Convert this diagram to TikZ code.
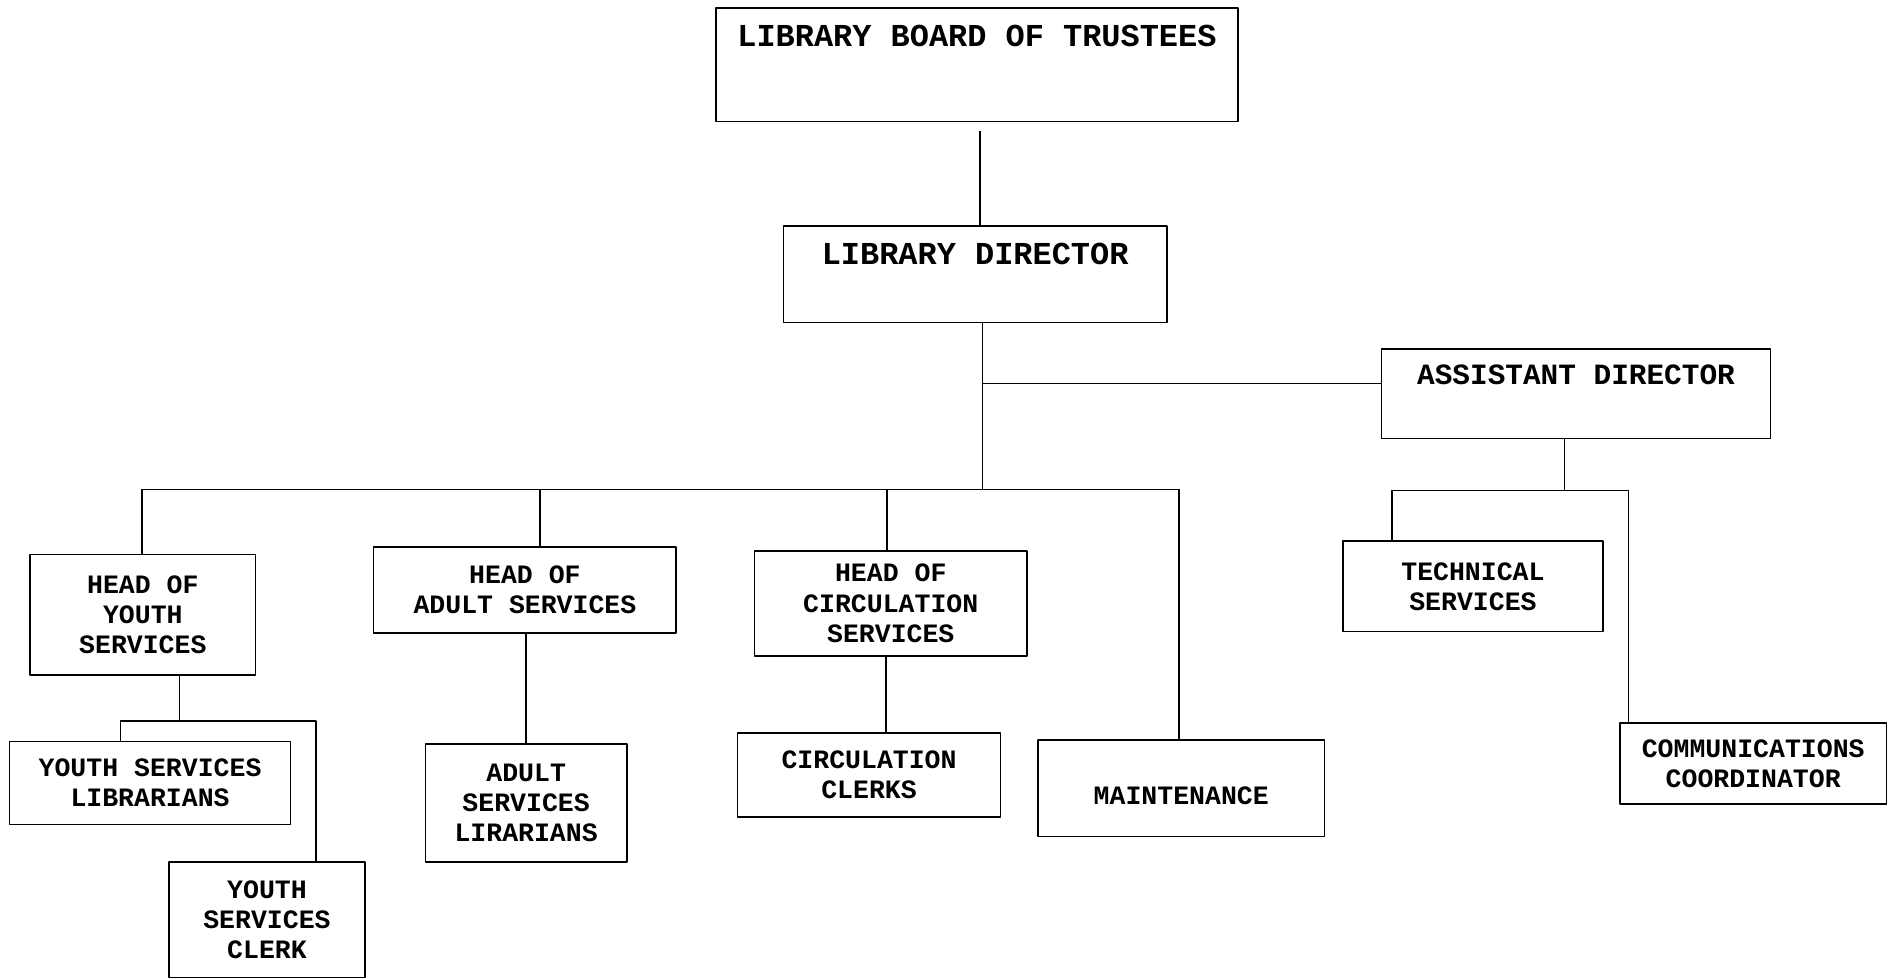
\documentclass[tikz,border=0pt]{standalone}
\usepackage{fontspec}
\newfontfamily\cour{Liberation Mono}
\begin{document}
\begin{tikzpicture}[x=1pt, y=-1pt, line width=1.3pt, line join=round,
    font=\cour\bfseries\fontsize{22}{25}\selectfont,
    post/.style={draw, align=center, inner sep=0pt},
    toppost/.style={draw, inner xsep=0pt, inner ysep=0pt, anchor=north}]
    \useasboundingbox (0,0) rectangle (1568,812);
    % top of the chart
    \node[toppost, minimum width=433pt, text height=32pt, text depth=62pt, font=\cour\bfseries\fontsize{26.5}{30}\selectfont] (board) at (810.5,6) {LIBRARY BOARD OF TRUSTEES};
    \node[toppost, minimum width=318pt, text height=32pt, text depth=48pt, font=\cour\bfseries\fontsize{26.5}{30}\selectfont] (dir) at (809,187) {LIBRARY DIRECTOR};
    \node[toppost, minimum width=323pt, text height=29.3pt, text depth=44.7pt, font=\cour\bfseries\fontsize{24.4}{28}\selectfont] (asst) at (1307.5,289) {ASSISTANT DIRECTOR};
    % heads and staff
    \node[post, minimum width=187pt, minimum height=100pt] (hy) at (118.5,510) {HEAD OF\\YOUTH\\SERVICES};
    \node[post, minimum width=251pt, minimum height=71pt] (ha) at (435.5,489.5) {HEAD OF\\ADULT SERVICES};
    \node[post, minimum width=226pt, minimum height=87pt] (hc) at (739,500.5) {HEAD OF\\CIRCULATION\\SERVICES};
    \node[post, minimum width=238pt, minimum height=80pt, text height=27pt, text depth=0pt] (mt) at (980,654) {MAINTENANCE};
    \node[post, minimum width=216pt, minimum height=75pt] (ts) at (1222,486.5) {TECHNICAL\\SERVICES};
    \node[post, minimum width=221pt, minimum height=67pt] (cc) at (1454.5,633.5) {COMMUNICATIONS\\COORDINATOR};
    \node[post, minimum width=233pt, minimum height=69pt] (ysl) at (124.5,649.5) {YOUTH SERVICES\\LIBRARIANS};
    \node[post, minimum width=163pt, minimum height=96pt] (ysc) at (221.5,763) {YOUTH\\SERVICES\\CLERK};
    \node[post, minimum width=167pt, minimum height=98pt] (asl) at (436.5,666) {ADULT\\SERVICES\\LIRARIANS};
    \node[post, minimum width=218pt, minimum height=70pt] (ccl) at (721,643) {CIRCULATION\\CLERKS};
    % connectors
    \coordinate (gap) at (813,109);
    \coordinate (tap) at (815,318);
    \coordinate (bus) at (815,406);
    \coordinate (abus) at (1298,407);
    \coordinate (ybus) at (149,598);
    \draw (gap) -- (gap |- dir.north);
    \draw (bus |- dir.south) -- (bus);
    \draw (tap) -- (tap -| asst.west);
    \draw (hy.north |- bus) -- (bus -| 978,0);
    \foreach \n/\x in {hy/118,ha/448,hc/736,mt/978}
        \draw (bus -| \x,0) -- (\n.north -| \x,0);
    \draw (abus |- asst.south) -- (abus);
    \draw (ts.north -| 1155,0) |- (abus -| 1351,0) -- (cc.north -| 1351,0);
    \draw (ybus |- hy.south) -- (ybus);
    \draw (ysl.north -| 100,0) |- (ybus -| 262,0) -- (ysc.north -| 262,0);
    \draw (asl.north |- ha.south) -- (asl.north);
    \draw (hc.south -| 735,0) -- (ccl.north -| 735,0);
\end{tikzpicture}
\end{document}
